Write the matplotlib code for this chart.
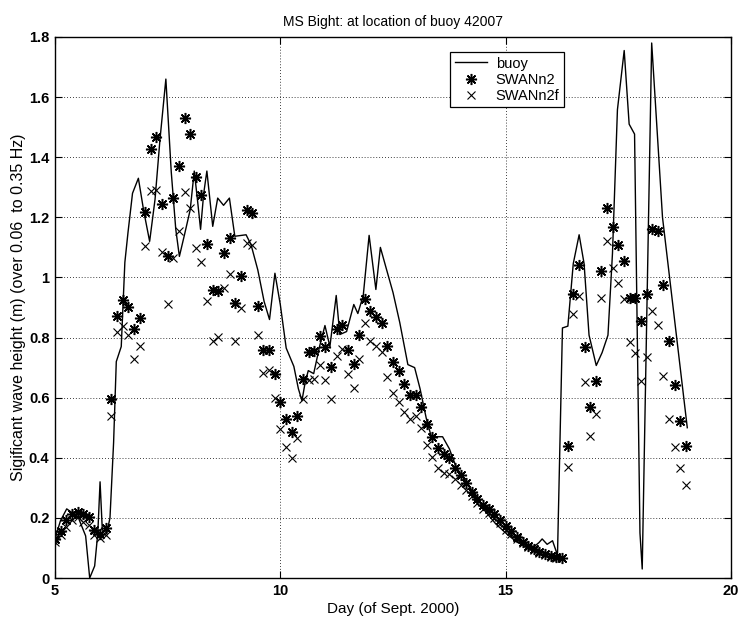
import matplotlib
matplotlib.use("Agg")
import matplotlib.pyplot as plt

plt.rcParams['font.family'] = ['Liberation Sans', 'DejaVu Sans']

# ---- data -----------------------------------------------------------
buoy_day = [5.00, 5.12, 5.26, 5.40, 5.52, 5.60, 5.68, 5.77, 5.88, 5.95, 6.00, 6.05,
            6.15, 6.22, 6.30, 6.36, 6.47, 6.55, 6.62, 6.72, 6.85, 6.97, 7.10, 7.22,
            7.33, 7.46, 7.58, 7.68, 7.76, 7.87, 8.00, 8.09, 8.16, 8.23, 8.30, 8.37,
            8.50, 8.61, 8.74, 8.87, 8.99, 9.24, 9.35, 9.50, 9.64, 9.76, 9.88, 10.00,
            10.13, 10.30, 10.40, 10.48, 10.55, 10.62, 10.74, 10.87, 10.99, 11.10,
            11.24, 11.32, 11.47, 11.63, 11.72, 11.84, 11.97, 12.12, 12.22, 12.35,
            12.50, 12.65, 12.83, 12.98, 13.10, 13.24, 13.35, 13.60, 13.75, 13.90,
            14.12, 14.34, 14.56, 14.78, 15.00, 15.20, 15.55, 15.74, 15.81, 15.92,
            16.04, 16.15, 16.26, 16.38, 16.50, 16.63, 16.74, 16.85, 17.01, 17.14,
            17.27, 17.37, 17.48, 17.63, 17.74, 17.86, 17.98, 18.03, 18.24, 18.48,
            19.03]
buoy_hs = [0.13, 0.19, 0.23, 0.215, 0.20, 0.17, 0.14, 0.00, 0.04, 0.15, 0.32, 0.16,
           0.15, 0.20, 0.45, 0.72, 0.77, 1.05, 1.15, 1.28, 1.33, 1.22, 1.12, 1.26,
           1.46, 1.66, 1.35, 1.16, 1.07, 1.14, 1.225, 1.354, 1.26, 1.16, 1.28, 1.354,
           1.17, 1.264, 1.24, 1.264, 1.137, 1.142, 1.109, 1.025, 0.92, 0.86, 1.014, 0.909,
           0.765, 0.704, 0.63, 0.59, 0.65, 0.69, 0.68, 0.77, 0.84, 0.77,
           0.94, 0.81, 0.82, 0.91, 0.88, 0.94, 1.14, 0.96, 1.10, 1.03,
           0.95, 0.85, 0.71, 0.70, 0.63, 0.53, 0.47, 0.47, 0.43, 0.37,
           0.32, 0.27, 0.22, 0.18, 0.15, 0.125, 0.094, 0.118, 0.13, 0.112,
           0.124, 0.076, 0.832, 0.838, 1.046, 1.142, 1.046, 0.808, 0.707, 0.75,
           0.808, 1.08, 1.558, 1.755, 1.51, 1.477, 0.15, 0.03, 1.78, 1.2,
           0.5]

model_day = [5.000, 5.125, 5.250, 5.375, 5.500, 5.625, 5.750, 5.875,
             6.000, 6.125, 6.250, 6.375, 6.500, 6.625, 6.750, 6.875,
             7.000, 7.125, 7.250, 7.375, 7.500, 7.625, 7.750, 7.875,
             8.000, 8.125, 8.250, 8.375, 8.500, 8.625, 8.750, 8.875,
             9.000, 9.125, 9.250, 9.375, 9.500, 9.625, 9.750, 9.875,
             10.000, 10.125, 10.250, 10.375, 10.500, 10.625, 10.750, 10.875,
             11.000, 11.125, 11.250, 11.375, 11.500, 11.625, 11.750, 11.875,
             12.000, 12.125, 12.250, 12.375, 12.500, 12.625, 12.750, 12.875,
             13.000, 13.125, 13.250, 13.375, 13.500, 13.625, 13.750, 13.875,
             14.000, 14.125, 14.250, 14.375, 14.500, 14.625, 14.750, 14.875,
             15.000, 15.125, 15.250, 15.375, 15.500, 15.625, 15.750, 15.875,
             16.000, 16.125, 16.250, 16.375, 16.500, 16.625, 16.750, 16.875,
             17.000, 17.125, 17.250, 17.375, 17.500, 17.625, 17.750, 17.875,
             18.000, 18.125, 18.250, 18.375, 18.500, 18.625, 18.750, 18.875,
             19.000]

swan_n2 = [0.13, 0.156, 0.192, 0.214, 0.218, 0.214, 0.203, 0.16,
           0.148, 0.165, 0.596, 0.873, 0.926, 0.903, 0.829, 0.864,
           1.218, 1.429, 1.468, 1.245, 1.07, 1.265, 1.37, 1.53,
           1.477, 1.333, 1.275, 1.11, 0.957, 0.954, 1.08, 1.13,
           0.915, 1.004, 1.225, 1.213, 0.905, 0.76, 0.76, 0.68,
           0.585, 0.53, 0.486, 0.54, 0.663, 0.752, 0.756, 0.806,
           0.77, 0.703, 0.828, 0.841, 0.758, 0.711, 0.809, 0.928,
           0.889, 0.867, 0.848, 0.772, 0.719, 0.689, 0.644, 0.608,
           0.608, 0.569, 0.514, 0.47, 0.433, 0.411, 0.40, 0.367,
           0.344, 0.317, 0.285, 0.262, 0.244, 0.228, 0.213, 0.194,
           0.172, 0.155, 0.135, 0.12, 0.108, 0.096, 0.086, 0.079,
           0.073, 0.07, 0.068, 0.44, 0.945, 1.04, 0.767, 0.57,
           0.654, 1.02, 1.23, 1.168, 1.108, 1.055, 0.933, 0.93,
           0.856, 0.945, 1.16, 1.153, 0.975, 0.79, 0.642, 0.523,
           0.44]

swan_n2f = [0.12, 0.142, 0.17, 0.192, 0.203, 0.187, 0.176, 0.142,
            0.133, 0.142, 0.54, 0.818, 0.837, 0.807, 0.729, 0.773,
            1.103, 1.287, 1.29, 1.085, 0.91, 1.065, 1.155, 1.283,
            1.232, 1.098, 1.05, 0.922, 0.79, 0.803, 0.965, 1.01,
            0.787, 0.9, 1.113, 1.108, 0.809, 0.683, 0.693, 0.60,
            0.495, 0.435, 0.40, 0.467, 0.594, 0.659, 0.661, 0.708,
            0.659, 0.597, 0.739, 0.761, 0.678, 0.633, 0.73, 0.848,
            0.789, 0.772, 0.753, 0.67, 0.617, 0.586, 0.552, 0.53,
            0.539, 0.5, 0.444, 0.403, 0.367, 0.35, 0.345, 0.33,
            0.31, 0.294, 0.272, 0.25, 0.23, 0.217, 0.2, 0.183,
            0.161, 0.147, 0.13, 0.116, 0.103, 0.092, 0.083, 0.077,
            0.071, 0.068, 0.066, 0.368, 0.88, 0.937, 0.651, 0.473,
            0.547, 0.93, 1.121, 1.032, 0.981, 0.927, 0.785, 0.749,
            0.654, 0.735, 0.89, 0.842, 0.671, 0.529, 0.437, 0.365,
            0.308]

x_ticks = [5, 10, 15, 20]
y_ticks = [0, 0.2, 0.4, 0.6, 0.8, 1.0, 1.2, 1.4, 1.6, 1.8]
y_tick_labels = ['0', '0.2', '0.4', '0.6', '0.8', '1', '1.2', '1.4', '1.6', '1.8']
series_labels = ['buoy', 'SWANn2', 'SWANn2f']

# ---- figure ---------------------------------------------------------
fig = plt.figure(figsize=(7.38, 6.20), dpi=100)
ax = fig.add_axes([55 / 738, 42 / 620, 676 / 738, 541 / 620])

ax.plot(buoy_day, buoy_hs, '-', color='black', lw=1.0, label=series_labels[0])
ax.plot(model_day, swan_n2, linestyle='none', marker=(8, 2, 0), markersize=8,
        markeredgewidth=1.1, color='black', label=series_labels[1])
ax.plot(model_day, swan_n2f, linestyle='none', marker='x', markersize=6,
        markeredgewidth=0.8, color='black', label=series_labels[2])

ax.set_xlim(5, 20)
ax.set_ylim(0, 1.8)
ax.set_xticks(x_ticks)
ax.set_yticks(y_ticks)
ax.set_yticklabels(y_tick_labels)
for lab in ax.get_xticklabels() + ax.get_yticklabels():
    lab.set_fontweight('bold')
    lab.set_fontsize(10.5)
ax.tick_params(direction='in', top=True, right=True, length=5, width=0.8, pad=4)
ax.grid(True, linestyle=(0, (1, 2.5)), color='black', linewidth=0.6)
for s in ax.spines.values():
    s.set_linewidth(1.0)

ax.set_title('MS Bight: at location of buoy 42007', fontsize=10, pad=8)
ax.set_xlabel('Day (of Sept. 2000)', fontsize=11, labelpad=3)
ax.set_ylabel('Sigificant wave height (m) (over 0.06  to 0.35 Hz)', fontsize=11.5, labelpad=2)

leg = ax.legend(loc='upper left', bbox_to_anchor=(0.585, 0.972), fontsize=10.5,
                frameon=True, fancybox=False, framealpha=1, edgecolor='black',
                handlelength=2.2, handletextpad=0.6, borderpad=0.3, labelspacing=0.15,
                borderaxespad=0)
leg.get_frame().set_linewidth(0.9)

fig.savefig('out.png', dpi=100)
